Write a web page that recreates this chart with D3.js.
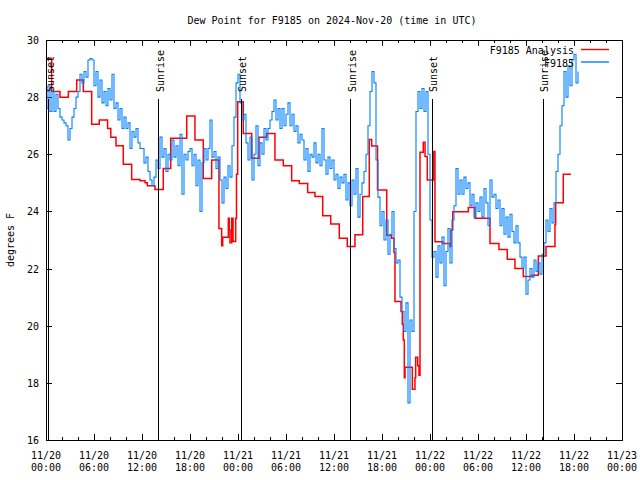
<!DOCTYPE html>
<html><head><meta charset="utf-8">
<script src="https://cdn.jsdelivr.net/npm/d3@7"></script>
<style>
html,body{margin:0;padding:0;background:#fff;}
svg text{font-family:"DejaVu Sans Mono","Liberation Mono",monospace;font-size:10px;fill:#000;}
</style></head>
<body><svg id="chart" width="640" height="480"></svg>
<script>
// ---------- data ----------
const titleText = "Dew Point for F9185 on 2024-Nov-20 (time in UTC)";
const yAxisLabel = "degrees F";
const seriesNames = ["F9185 Analysis", "F9185"];
const yTickValues = [16, 18, 20, 22, 24, 26, 28, 30];
const startUTC = Date.UTC(2024, 10, 20, 0, 0);   // 11/20 00:00
const endUTC = Date.UTC(2024, 10, 23, 0, 0);     // 11/23 00:00

// Analysis (hours after start, value)
const analysisHours = [0.0,0.71,1.75,2.79,3.84,4.66,5.71,6.66,7.7,8.1,8.75,9.66,10.71,11.75,12.38,12.66,13.62,14.66,15.59,17.59,18.62,19.66,20.71,21.62,21.96,22.09,22.79,22.91,23.0,23.21,23.38,23.71,23.81,23.96,24.66,25.71,26.62,27.59,28.62,29.66,30.71,31.66,32.71,33.62,34.59,35.59,36.66,37.66,38.62,39.59,40.41,40.71,41.44,42.59,43.21,43.5,43.62,44.38,44.54,44.66,44.79,44.88,45.79,46.12,46.21,46.46,46.62,46.75,47.16,47.38,47.66,48.42,48.62,49.59,50.5,50.62,50.84,52.79,53.62,55.5,56.62,57.66,58.62,59.66,60.71,61.54,62.5,63.62,63.71,64.66,65.62];
const analysisValues = [29.36,28.2,28.0,28.2,28.6,28.2,27.05,27.2,26.9,26.6,26.3,25.65,25.12,25.07,25.0,24.9,24.77,25.5,26.56,27.34,26.5,25.15,25.8,23.4,22.8,23.1,23.76,23.35,22.9,23.76,22.95,23.76,25.3,27.84,26.73,25.86,26.6,26.73,25.8,25.6,25.07,24.98,24.66,24.52,23.85,23.56,23.06,22.77,23.18,24.52,26.52,26.29,24.75,23.17,23.06,22.56,20.85,20.5,20.05,19.5,18.18,18.55,17.78,18.18,18.9,18.6,18.27,26.07,26.42,25.92,25.1,26.1,22.94,22.88,22.77,23.35,23.99,24.14,23.76,22.88,22.67,22.33,22.0,21.72,21.77,22.44,22.77,23.53,24.3,25.3,25.3];

// Observations: one reading every 15 minutes from 11/20 00:00
const obsStepMinutes = 15;
const obsValues = [
27.6,28.4,27.5,28.2,27.5,28.1,27.6,27.3,
27.2,27.1,27.0,26.5,26.9,27.3,27.6,28.0,
28.2,28.8,28.5,28.9,28.7,29.3,29.35,29.3,
28.4,28.9,28.0,28.6,27.8,28.2,27.7,28.3,
27.9,28.8,27.6,27.8,27.2,27.6,26.9,27.3,
26.9,27.1,26.2,26.8,26.6,26.9,26.4,26.2,
26.2,25.7,25.9,25.4,25.1,24.9,25.2,25.8,
25.5,26.6,25.9,26.2,25.4,26.0,25.8,26.5,
25.9,26.3,25.6,26.7,24.6,26.0,25.8,26.1,
26.2,25.6,26.0,24.9,25.8,24.0,25.7,26.2,
25.8,26.2,27.2,25.9,26.1,25.5,25.9,25.1,
24.3,25.2,24.8,25.6,25.2,26.3,27.3,28.5,
28.8,27.8,27.2,27.4,26.4,25.8,26.6,25.1,
26.0,27.0,25.6,26.4,26.0,26.9,26.5,26.9,
27.2,27.5,27.9,27.2,27.6,26.9,27.6,27.0,
27.4,27.8,27.0,27.4,26.8,27.0,26.4,26.7,
26.5,25.8,26.2,25.4,26.0,25.9,26.4,25.7,
26.0,25.6,26.9,25.8,25.3,25.9,25.5,25.8,
25.1,25.3,24.8,25.2,25.0,25.3,24.4,25.0,
24.2,25.1,24.6,25.5,23.8,24.6,25.0,25.4,
26.0,27.0,28.2,28.9,28.5,25.8,24.5,23.5,
24.0,23.0,23.7,22.5,23.2,24.0,22.7,22.2,
22.3,21.0,20.5,19.8,20.8,17.3,20.2,19.8,
24.0,27.5,28.2,27.6,28.3,27.5,28.2,26.0,
23.7,22.4,22.6,21.7,22.8,22.2,23.1,21.4,
22.6,23.4,22.2,23.7,24.2,25.5,24.6,25.1,
24.6,25.2,24.8,25.0,24.2,24.6,23.8,24.3,
24.0,24.5,23.8,24.8,24.3,23.5,25.1,24.5,
24.6,24.1,24.4,23.5,24.1,23.2,23.8,23.1,
23.9,23.3,22.9,23.5,22.9,22.4,22.0,22.4,
21.1,21.6,22.0,21.7,22.3,21.9,22.2,21.8,
22.5,22.9,23.7,23.3,24.1,23.6,24.3,25.4,
26.0,27.0,27.7,28.9,28.0,29.1,28.4,29.3,
29.5,28.5,28.9
];

// Sun events (hours after start)
const sunLabels = ["Sunset", "Sunrise", "Sunset", "Sunrise", "Sunset", "Sunrise"];
const sunHours = [0.25, 14.0, 24.33, 38.0, 48.2, 62.1];

// ---------- chart ----------
const svg = d3.select("#chart");
const M = {left: 46, right: 622, top: 40, bottom: 440};
const HOUR = 3600 * 1000;

const x = d3.scaleUtc().domain([new Date(startUTC), new Date(endUTC)]).range([M.left, M.right]);
const y = d3.scaleLinear().domain([16, 30]).range([M.bottom, M.top]);

const analysis = analysisHours.map((h, i) => ({t: new Date(startUTC + h * HOUR), v: analysisValues[i]}));
const obs = obsValues.map((v, i) => ({t: new Date(startUTC + i * obsStepMinutes * 60000), v}));

svg.append("defs").append("clipPath").attr("id", "clip")
  .append("rect").attr("x", M.left).attr("y", M.top)
  .attr("width", M.right - M.left).attr("height", M.bottom - M.top);

// title
svg.append("text").attr("x", 332).attr("y", 24).attr("text-anchor", "middle").text(titleText);

// axes ticks (inward, mirrored)
const majorTicks = d3.utcHour.every(6).range(new Date(startUTC), new Date(endUTC + 1));
const minorTicks = d3.utcHour.every(2).range(new Date(startUTC), new Date(endUTC + 1))
  .filter(d => d.getUTCHours() % 6 !== 0);

function xAxisTicks(gen, yPos, size, vals) {
  const g = svg.append("g").attr("transform", `translate(0,${yPos})`)
    .call(gen(x).tickValues(vals).tickSize(size).tickFormat(""));
  g.select(".domain").remove();
  g.selectAll("line").attr("stroke", "#000").attr("shape-rendering", "crispEdges");
}
xAxisTicks(d3.axisBottom, M.bottom, -6, majorTicks);
xAxisTicks(d3.axisBottom, M.bottom, -3, minorTicks);
xAxisTicks(d3.axisTop, M.top, -6, majorTicks);
xAxisTicks(d3.axisTop, M.top, -3, minorTicks);

function yAxisTicks(gen, xPos) {
  const g = svg.append("g").attr("transform", `translate(${xPos},0)`)
    .call(gen(y).tickValues(yTickValues).tickSize(-6).tickFormat(""));
  g.select(".domain").remove();
  g.selectAll("line").attr("stroke", "#000").attr("shape-rendering", "crispEdges");
}
yAxisTicks(d3.axisLeft, M.left);
yAxisTicks(d3.axisRight, M.right);

// y tick labels
svg.append("g").selectAll("text").data(yTickValues).join("text")
  .attr("x", 39).attr("y", d => y(d) + 4).attr("text-anchor", "end").text(d => d);

// x tick labels (two lines)
const fmtDate = d3.utcFormat("%m/%d"), fmtTime = d3.utcFormat("%H:%M");
const xl = svg.append("g").selectAll("text").data(majorTicks).join("text")
  .attr("text-anchor", "middle");
xl.append("tspan").attr("x", d => x(d)).attr("y", 459).text(d => fmtDate(d));
xl.append("tspan").attr("x", d => x(d)).attr("y", 471).text(d => fmtTime(d));

// y axis title
svg.append("text").attr("transform", "translate(14,240) rotate(-90)")
  .attr("text-anchor", "middle").text(yAxisLabel);

// data lines
const line = d3.line().x(d => x(d.t)).y(d => y(d.v)).curve(d3.curveStepAfter);
const plot = svg.append("g").attr("clip-path", "url(#clip)");
plot.append("path").datum(analysis).attr("d", line)
  .attr("fill", "none").attr("stroke", "#ff0000").attr("stroke-width", 1.5);
plot.append("path").datum(obs).attr("d", line)
  .attr("fill", "none").attr("stroke", "#0080ff").attr("stroke-width", 1.1);

// sun lines
const sun = svg.append("g").selectAll("g").data(sunHours.map((h, i) => ({h, label: sunLabels[i]}))).join("g");
sun.append("line")
  .attr("x1", d => Math.round(x(new Date(startUTC + d.h * HOUR))) + 0.5)
  .attr("x2", d => Math.round(x(new Date(startUTC + d.h * HOUR))) + 0.5)
  .attr("y1", 99).attr("y2", M.bottom).attr("stroke", "#000").attr("stroke-width", 1);
sun.append("text")
  .attr("transform", d => `translate(${x(new Date(startUTC + d.h * HOUR)) + 5.5},92) rotate(-90)`)
  .attr("text-anchor", "start").text(d => d.label);

// border
svg.append("rect").attr("x", M.left + 0.5).attr("y", M.top + 0.5)
  .attr("width", M.right - M.left).attr("height", M.bottom - M.top)
  .attr("fill", "none").attr("stroke", "#000").attr("stroke-width", 1);

// legend
const legColors = ["#ff0000", "#0080ff"];
const leg = svg.append("g").selectAll("g").data(seriesNames).join("g");
leg.append("text").attr("x", 574).attr("y", (d, i) => 54 + i * 12.5)
  .attr("text-anchor", "end").text(d => d);
leg.append("line").attr("x1", 581).attr("x2", 609)
  .attr("y1", (d, i) => 49.5 + i * 12.5).attr("y2", (d, i) => 49.5 + i * 12.5)
  .attr("stroke", (d, i) => legColors[i]).attr("stroke-width", 1.4);
</script></body></html>
